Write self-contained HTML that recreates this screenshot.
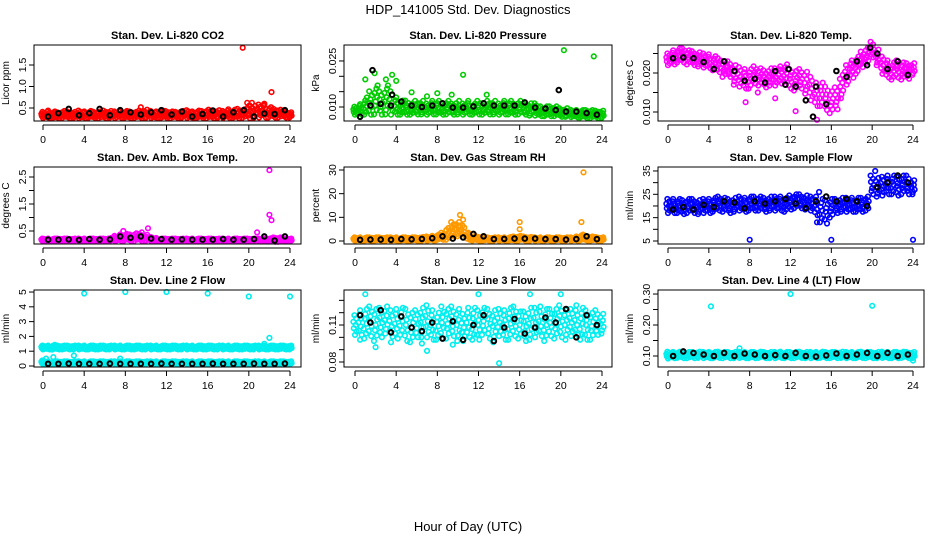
<!DOCTYPE html>
<html><head><meta charset="utf-8"><style>
body{margin:0;background:#fff;}
svg{display:block;font-family:"Liberation Sans",sans-serif;}
</style></head><body>
<svg id="chart" width="936" height="540" viewBox="0 0 936 540">
<text x="468" y="14" text-anchor="middle" font-size="13">HDP_141005  Std. Dev. Diagnostics</text>
<text x="468" y="531" text-anchor="middle" font-size="13">Hour of Day (UTC)</text>
</svg>
<script>
// ---- data ----
const hours = [0,0.5,1,1.5,2,2.5,3,3.5,4,4.5,5,5.5,6,6.5,7,7.5,8,8.5,9,9.5,10,10.5,11,11.5,12,12.5,13,13.5,14,14.5,15,15.5,16,16.5,17,17.5,18,18.5,19,19.5,20,20.5,21,21.5,22,22.5,23,23.5,24];
const blackHours = [0.5,1.5,2.5,3.5,4.5,5.5,6.5,7.5,8.5,9.5,10.5,11.5,12.5,13.5,14.5,15.5,16.5,17.5,18.5,19.5,20.5,21.5,22.5,23.5];
const xTicks = [0,4,8,12,16,20,24];

const co2Center = [0.34,0.35,0.34,0.33,0.35,0.34,0.34,0.35,0.34,0.35,0.34,0.34,0.35,0.35,0.34,0.36,0.35,0.34,0.34,0.35,0.36,0.35,0.34,0.35,0.35,0.34,0.34,0.35,0.36,0.34,0.35,0.35,0.36,0.35,0.36,0.35,0.37,0.36,0.37,0.37,0.44,0.41,0.43,0.44,0.40,0.38,0.37,0.36,0.34];
const co2Spread = [0.07,0.09,0.08,0.07,0.08,0.08,0.07,0.09,0.08,0.08,0.07,0.08,0.09,0.08,0.08,0.09,0.08,0.08,0.07,0.09,0.10,0.08,0.08,0.09,0.08,0.08,0.07,0.08,0.09,0.08,0.09,0.08,0.10,0.09,0.09,0.08,0.10,0.10,0.11,0.10,0.18,0.14,0.15,0.16,0.12,0.10,0.09,0.08,0.06];
const co2Black = [0.30,0.38,0.48,0.33,0.38,0.48,0.33,0.45,0.40,0.35,0.40,0.45,0.35,0.42,0.30,0.36,0.44,0.30,0.40,0.45,0.30,0.37,0.36,0.45];
const co2OutX = [19.4,22.2,20.3,9.5,21.5];
const co2OutY = [1.9,0.87,0.62,0.52,0.58];

const presCenter = [0.0088,0.0092,0.0103,0.0113,0.0118,0.0113,0.0118,0.0113,0.0103,0.0098,0.0098,0.0093,0.0098,0.0098,0.0093,0.0098,0.0098,0.0093,0.0098,0.0093,0.0098,0.0093,0.0098,0.0093,0.0098,0.0093,0.0098,0.0098,0.0093,0.0098,0.0098,0.0093,0.0098,0.0093,0.0092,0.0092,0.0086,0.0086,0.0086,0.0086,0.0082,0.0082,0.0079,0.0078,0.0078,0.0077,0.0077,0.0076,0.0076];
const presSpread = [0.0013,0.0017,0.0028,0.0038,0.0042,0.0038,0.0042,0.0038,0.0028,0.0023,0.0023,0.0018,0.0022,0.0022,0.0018,0.0022,0.0022,0.0018,0.0022,0.0018,0.0022,0.0018,0.0022,0.0018,0.0022,0.0018,0.0022,0.0022,0.0018,0.0022,0.0022,0.0018,0.0022,0.0018,0.0020,0.0020,0.0016,0.0016,0.0016,0.0016,0.0014,0.0014,0.0012,0.0012,0.0012,0.0013,0.0013,0.0012,0.0012];
const presBlack = [0.0068,0.0105,0.0110,0.0105,0.0118,0.0105,0.0100,0.0105,0.0112,0.0098,0.0098,0.0102,0.0112,0.0105,0.0105,0.0105,0.0115,0.0098,0.0095,0.0090,0.0085,0.0085,0.0080,0.0075];
const presOutX = [1.9,1.0,3.0,3.6,4.0,10.5,20.3,23.2,5.5,8.0,9.4,12.8,2.2,3.2,7.0,1.7,19.8,3.6];
const presOutY = [0.021,0.019,0.019,0.0205,0.0185,0.0205,0.0285,0.0265,0.0148,0.0145,0.014,0.014,0.017,0.017,0.0135,0.022,0.0155,0.014];
const presOutBlack = [0,0,0,0,0,0,0,0,0,0,0,0,0,0,0,1,1,1];

const tempCenter = [0.0235,0.024,0.0245,0.0245,0.024,0.0238,0.0235,0.0232,0.023,0.0225,0.022,0.021,0.021,0.0195,0.019,0.0185,0.0185,0.0195,0.019,0.0185,0.019,0.019,0.0195,0.02,0.0185,0.018,0.0185,0.0175,0.016,0.0145,0.0145,0.0135,0.0125,0.0135,0.0165,0.0195,0.021,0.022,0.0235,0.0245,0.026,0.024,0.022,0.021,0.0205,0.021,0.0205,0.0205,0.021];
const tempSpread = [0.0015,0.0018,0.0018,0.0018,0.0018,0.0018,0.0018,0.0018,0.0018,0.0018,0.0018,0.002,0.002,0.0025,0.0025,0.0025,0.0025,0.0022,0.0022,0.0022,0.0022,0.0022,0.0022,0.0022,0.0025,0.0025,0.0025,0.0028,0.003,0.003,0.003,0.003,0.0028,0.0028,0.003,0.0025,0.0022,0.0022,0.002,0.002,0.002,0.002,0.0022,0.0022,0.0022,0.0022,0.0022,0.002,0.0015];
const tempBlack = [0.0238,0.024,0.0238,0.0228,0.021,0.023,0.0205,0.018,0.0185,0.0175,0.0205,0.017,0.0165,0.013,0.0165,0.012,0.0205,0.019,0.023,0.022,0.025,0.021,0.023,0.0195];
const tempOutX = [7.6,10.5,8.8,14.6,12.5,19.8,14.2,19.8,11.8];
const tempOutY = [0.0125,0.0135,0.015,0.008,0.0102,0.0265,0.0088,0.0265,0.021];
const tempOutBlack = [0,0,0,0,0,0,1,1,1];

const boxCenter = [0.17,0.17,0.17,0.17,0.17,0.17,0.17,0.17,0.17,0.17,0.17,0.17,0.17,0.18,0.22,0.25,0.27,0.25,0.27,0.26,0.24,0.2,0.18,0.17,0.17,0.17,0.17,0.17,0.17,0.17,0.17,0.17,0.17,0.17,0.17,0.17,0.17,0.17,0.17,0.17,0.17,0.17,0.17,0.17,0.17,0.18,0.18,0.17,0.17];
const boxSpread = [0.05,0.05,0.05,0.05,0.05,0.05,0.05,0.05,0.05,0.05,0.05,0.05,0.05,0.06,0.1,0.12,0.12,0.12,0.14,0.13,0.12,0.08,0.06,0.05,0.05,0.05,0.05,0.05,0.05,0.05,0.05,0.05,0.05,0.05,0.05,0.05,0.05,0.05,0.05,0.05,0.05,0.05,0.05,0.05,0.06,0.08,0.08,0.06,0.05];
const boxBlack = [0.18,0.18,0.19,0.17,0.20,0.18,0.19,0.30,0.25,0.30,0.22,0.20,0.18,0.19,0.18,0.18,0.18,0.20,0.18,0.18,0.20,0.30,0.15,0.30];
const boxOutX = [22.0,22.0,22.2,10.2,20.8,7.8,9.6];
const boxOutY = [2.75,1.1,0.9,0.6,0.45,0.5,0.45];

const rhCenter = [0.8,0.8,0.8,0.8,0.8,0.8,0.8,0.8,0.8,0.8,0.8,0.8,0.8,0.9,1.0,1.2,1.5,2.0,3.0,5.0,5.0,4.0,2.0,1.2,1.0,0.9,0.8,0.8,0.8,0.8,0.9,1.0,1.2,1.0,0.9,0.8,0.8,0.8,0.8,0.8,0.8,0.8,0.8,1.0,1.5,1.2,1.0,0.9,0.8];
const rhSpread = [0.7,0.7,0.7,0.7,0.7,0.7,0.7,0.7,0.7,0.7,0.7,0.7,0.7,0.8,0.9,1.0,1.2,1.5,2.5,3.0,3.0,2.5,1.5,1.0,0.8,0.8,0.7,0.7,0.7,0.7,0.8,0.9,1.0,0.9,0.8,0.7,0.7,0.7,0.7,0.7,0.7,0.7,0.7,0.9,1.2,1.0,0.9,0.8,0.7];
const rhBlack = [0.5,0.6,0.6,0.5,0.8,0.7,0.9,1.2,2.0,1.0,1.5,3.0,2.0,0.8,0.9,1.0,1.0,1.0,0.8,0.8,0.6,0.8,2.0,0.8];
const rhOutX = [22.2,10.2,16.0,16.0,22.0,10.2,9.7,10.5];
const rhOutY = [29,11,8,5,8,6.5,7,9];

const flowCenter = [20,20,20,19.5,20,20,19.5,20,20,20.5,21,20.5,20,20.5,21,20.5,21,21,21,20.5,21,21,21,20.5,21.5,22,22,21.5,21,20,18,17.5,19,20,20.5,20.5,20.5,20.5,20.5,21,29,28,28.5,29,29,28.5,29,29,28];
const flowSpread = [3,3,3,3,3,3,3,3,3,3,3,3,3,3,3,3,3,3,3,3,3,3,3,3,3,3,3,3,3,4,5,5,4,3,3,3,3,3,3,3,4,4,4,4,4,4,4,4,3];
const flowBlack = [18.5,19.5,18.5,20.5,19.5,22,21.5,19,22,21,22,23,21,19,22,24,22,23,22,20,28,30,33,30];
const flowOutX = [8,16,24,20.3,14.8,14.6];
const flowOutY = [5.5,5.5,5.5,35,26,13];

const l2Center = [1.25,1.25,1.27,1.25,1.25,1.25,1.25,1.25,1.25,1.25,1.25,1.25,1.25,1.25,1.25,1.25,1.25,1.25,1.25,1.25,1.25,1.25,1.25,1.25,1.25,1.25,1.25,1.25,1.25,1.25,1.25,1.25,1.25,1.25,1.25,1.25,1.25,1.25,1.25,1.25,1.25,1.25,1.25,1.25,1.25,1.25,1.25,1.25,1.25];
const l2Spread = [0.13,0.13,0.16,0.13,0.13,0.13,0.13,0.13,0.13,0.13,0.13,0.13,0.13,0.13,0.13,0.13,0.13,0.13,0.13,0.13,0.13,0.13,0.13,0.13,0.13,0.13,0.13,0.13,0.13,0.13,0.13,0.13,0.13,0.13,0.13,0.13,0.13,0.13,0.13,0.13,0.13,0.13,0.13,0.13,0.13,0.13,0.13,0.13,0.13];
const l2LowCenter = [0.25,0.22,0.22,0.22,0.22,0.22,0.22,0.22,0.22,0.22,0.22,0.22,0.22,0.22,0.22,0.22,0.22,0.22,0.22,0.22,0.22,0.22,0.22,0.22,0.22,0.22,0.22,0.22,0.22,0.22,0.22,0.22,0.22,0.22,0.22,0.22,0.22,0.22,0.22,0.22,0.22,0.22,0.22,0.22,0.22,0.22,0.22,0.22,0.22];
const l2LowSpread = [0.12,0.1,0.1,0.1,0.1,0.1,0.1,0.1,0.1,0.1,0.1,0.1,0.1,0.1,0.1,0.1,0.1,0.1,0.1,0.1,0.1,0.1,0.1,0.1,0.1,0.1,0.1,0.1,0.1,0.1,0.1,0.1,0.1,0.1,0.1,0.1,0.1,0.1,0.1,0.1,0.1,0.1,0.1,0.1,0.1,0.1,0.1,0.1,0.1];
const l2Black = [0.15,0.15,0.16,0.15,0.15,0.15,0.16,0.15,0.15,0.15,0.15,0.16,0.15,0.15,0.15,0.15,0.16,0.15,0.15,0.15,0.16,0.15,0.15,0.16];
const l2OutX = [4,8,12,16,20,24,22,21.5,0.3,3,7.5,1];
const l2OutY = [4.9,5,5,4.9,4.7,4.7,1.9,1.5,0.5,0.7,0.5,0.6];

const l3Center = [0.11,0.112,0.111,0.113,0.11,0.112,0.114,0.109,0.111,0.113,0.11,0.108,0.111,0.112,0.113,0.11,0.109,0.112,0.111,0.113,0.11,0.108,0.112,0.111,0.11,0.113,0.111,0.109,0.112,0.11,0.111,0.113,0.11,0.109,0.111,0.112,0.113,0.11,0.112,0.111,0.113,0.11,0.112,0.114,0.111,0.11,0.109,0.112,0.111];
const l3Spread = [0.008,0.01,0.012,0.012,0.013,0.012,0.011,0.013,0.012,0.011,0.013,0.012,0.011,0.012,0.013,0.012,0.011,0.013,0.012,0.012,0.013,0.011,0.012,0.013,0.012,0.011,0.012,0.013,0.011,0.012,0.013,0.012,0.011,0.012,0.013,0.012,0.012,0.013,0.011,0.012,0.013,0.012,0.011,0.012,0.013,0.012,0.011,0.01,0.008];
const l3Black = [0.118,0.112,0.122,0.104,0.117,0.108,0.105,0.112,0.099,0.113,0.098,0.11,0.118,0.097,0.108,0.115,0.103,0.108,0.116,0.112,0.123,0.10,0.118,0.11];
const l3OutX = [1,12,17,20,14,7,0.5,2,9.5,6.5];
const l3OutY = [0.135,0.135,0.135,0.135,0.079,0.089,0.098,0.092,0.094,0.095];

const l4Center = [0.103,0.103,0.104,0.103,0.103,0.103,0.104,0.103,0.103,0.103,0.104,0.103,0.103,0.103,0.104,0.103,0.103,0.103,0.104,0.103,0.103,0.103,0.104,0.103,0.103,0.103,0.104,0.103,0.103,0.103,0.104,0.103,0.103,0.103,0.104,0.103,0.103,0.103,0.104,0.103,0.103,0.103,0.104,0.103,0.103,0.103,0.104,0.103,0.103];
const l4Spread = [0.011,0.01,0.01,0.01,0.01,0.01,0.01,0.01,0.01,0.01,0.01,0.01,0.01,0.01,0.01,0.01,0.01,0.01,0.01,0.01,0.01,0.01,0.01,0.01,0.01,0.01,0.01,0.01,0.01,0.01,0.01,0.01,0.01,0.01,0.01,0.01,0.01,0.01,0.01,0.01,0.01,0.01,0.01,0.01,0.01,0.01,0.01,0.01,0.01];
const l4Black = [0.10,0.115,0.11,0.105,0.10,0.11,0.10,0.108,0.105,0.10,0.103,0.10,0.11,0.10,0.098,0.102,0.108,0.10,0.105,0.11,0.10,0.11,0.10,0.105];
const l4OutX = [4.2,12,20,24,7];
const l4OutY = [0.26,0.3,0.262,0.085,0.125];

// ---- layout (not data) ----
const cols = [{bl:34,br:301,x0:43,x24:290},{bl:344,br:612,x0:355,x24:602},{bl:658,br:924,x0:668,x24:913}];
const rows = [{top:45,bot:121},{top:167,bot:244},{top:290,bot:367}];
const levels = [-1,-0.66,-0.33,0,0.33,0.66,1];
const levelDx = [0,1.6,-1.2,0.8,-1.6,1.2,-0.6];
const panels = [
 {name:'co2',title:'Stan. Dev. Li-820 CO2',ylab:'Licor ppm',col:0,row:0,dom:[0.198,1.965],ticks:[0.5,1,1.5],labs:['0.5','1.0','1.5'],color:'#ff0000',c:co2Center,s:co2Spread,b:co2Black,ox:co2OutX,oy:co2OutY},
 {name:'pressure',title:'Stan. Dev. Li-820 Pressure',ylab:'kPa',col:1,row:0,dom:[0.00544,0.0302],ticks:[0.01,0.015,0.02,0.025],labs:['0.010','','','0.025'],color:'#00cc00',c:presCenter,s:presSpread,b:presBlack,ox:presOutX,oy:presOutY,ob:presOutBlack},
 {name:'temp',title:'Stan. Dev. Li-820 Temp.',ylab:'degrees C',col:2,row:0,dom:[0.00769,0.02718],ticks:[0.01,0.015,0.02,0.025],labs:['0.010','','0.020',''],color:'#ff00ff',c:tempCenter,s:tempSpread,b:tempBlack,ox:tempOutX,oy:tempOutY,ob:tempOutBlack},
 {name:'box-temp',title:'Stan. Dev. Amb. Box Temp.',ylab:'degrees C',col:0,row:1,dom:[0.019,2.87],ticks:[0.5,1,1.5,2,2.5],labs:['0.5','','1.5','','2.5'],color:'#ff00ff',c:boxCenter,s:boxSpread,b:boxBlack,ox:boxOutX,oy:boxOutY},
 {name:'rh',title:'Stan. Dev. Gas Stream RH',ylab:'percent',col:1,row:1,dom:[-1.27,31.27],ticks:[0,10,20,30],labs:['0','10','20','30'],color:'#ff9900',c:rhCenter,s:rhSpread,b:rhBlack,ox:rhOutX,oy:rhOutY},
 {name:'sample-flow',title:'Stan. Dev. Sample Flow',ylab:'ml/min',col:2,row:1,dom:[3.71,36.7],ticks:[5,10,15,20,25,30,35],labs:['5','','15','','25','','35'],color:'#0000ff',c:flowCenter,s:flowSpread,b:flowBlack,ox:flowOutX,oy:flowOutY},
 {name:'line2-flow',title:'Stan. Dev. Line 2 Flow',ylab:'ml/min',col:0,row:2,dom:[-0.068,5.137],ticks:[0,1,2,3,4,5],labs:['0','1','2','3','4','5'],color:'#00eeee',c:l2Center,s:l2Spread,c2:l2LowCenter,s2:l2LowSpread,b:l2Black,ox:l2OutX,oy:l2OutY},
 {name:'line3-flow',title:'Stan. Dev. Line 3 Flow',ylab:'ml/min',col:1,row:2,dom:[0.07595,0.1384],ticks:[0.08,0.09,0.10,0.11,0.12,0.13],labs:['0.08','','','0.11','',''],color:'#00eeee',c:l3Center,s:l3Spread,b:l3Black,ox:l3OutX,oy:l3OutY},
 {name:'line4-flow',title:'Stan. Dev. Line 4 (LT) Flow',ylab:'ml/min',col:2,row:2,dom:[0.0645,0.313],ticks:[0.10,0.15,0.20,0.25,0.30],labs:['0.10','','0.20','','0.30'],color:'#00eeee',c:l4Center,s:l4Spread,b:l4Black,ox:l4OutX,oy:l4OutY}
];

const NS='http://www.w3.org/2000/svg';
const svg=document.getElementById('chart');
function mk(tag,attrs,parent){const e=document.createElementNS(NS,tag);for(const k in attrs)e.setAttribute(k,attrs[k]);(parent||svg).appendChild(e);return e;}
function circ(g,x,y,color,sw){const c=mk('circle',{cx:x.toFixed(1),cy:y.toFixed(1),r:2.3,fill:'none',stroke:color,'stroke-width':sw||1.6},g);

}

panels.forEach(p=>{
 const C=cols[p.col],R=rows[p.row];
 const xs=h=>C.x0+(C.x24-C.x0)*h/24;
 const ys=v=>R.bot-(v-p.dom[0])/(p.dom[1]-p.dom[0])*(R.bot-R.top);
 const g=mk('g',{});
 
 
 const t=mk('text',{x:(C.bl+C.br)/2,y:R.top-6,'text-anchor':'middle','font-size':11,'font-weight':'bold'},g);t.textContent=p.title;
 
 
 const yl=mk('text',{x:0,y:0,'text-anchor':'middle','font-size':10,transform:`translate(${C.bl-25},${(R.top+R.bot)/2}) rotate(-90)`},g);yl.textContent=p.ylab;
 
 
 const pg=mk('g',{},g);
 
 
 const bands=[[p.c,p.s]];if(p.c2)bands.push([p.c2,p.s2]);
 bands.forEach(([cc,ss])=>{hours.forEach((h,i)=>{levels.forEach((k,j)=>circ(pg,xs(h)+levelDx[(j+i)%levelDx.length],ys(cc[i]+k*ss[i]),p.color));});});
 p.ox.forEach((x,i)=>{if(!(p.ob&&p.ob[i]))circ(pg,xs(x),ys(p.oy[i]),p.color);});
 const bg=mk('g',{},g);
 
 
 blackHours.forEach((h,i)=>circ(bg,xs(h),ys(p.b[i]),'#000',2));
 p.ox.forEach((x,i)=>{if(p.ob&&p.ob[i])circ(bg,xs(x),ys(p.oy[i]),'#000',2);});
 const bx=mk('rect',{x:C.bl,y:R.top,width:C.br-C.bl,height:R.bot-R.top,fill:'none',stroke:'#000','stroke-width':1},g);
 
 
 const xa=mk('g',{},g);
 
 
 mk('line',{x1:xs(0),x2:xs(24),y1:R.bot+4,y2:R.bot+4,stroke:'#000'},xa);
 xTicks.forEach(v=>{mk('line',{x1:xs(v),x2:xs(v),y1:R.bot+4,y2:R.bot+9,stroke:'#000'},xa);
  const tl=mk('text',{x:xs(v),y:R.bot+22,'text-anchor':'middle','font-size':10.5},xa);tl.textContent=v;});
 const ya=mk('g',{},g);
 
 
 const t0=ys(p.ticks[0]),t1=ys(p.ticks[p.ticks.length-1]);
 mk('line',{x1:C.bl,x2:C.bl,y1:t0,y2:t1,stroke:'#000'},ya);
 p.ticks.forEach((v,i)=>{const y=ys(v);mk('line',{x1:C.bl-5,x2:C.bl,y1:y,y2:y,stroke:'#000'},ya);
  if(p.labs[i]){const tl=mk('text',{x:0,y:0,'text-anchor':'middle','font-size':10.5,transform:`translate(${C.bl-8},${y}) rotate(-90)`},ya);tl.textContent=p.labs[i];}});
});
</script>
</body></html>
